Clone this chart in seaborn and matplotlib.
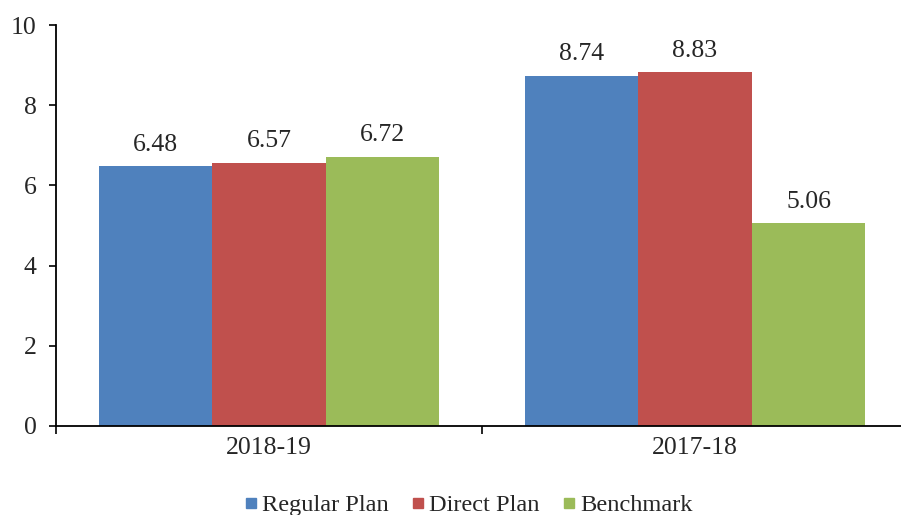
import matplotlib
matplotlib.use("Agg")
import matplotlib.pyplot as plt
import seaborn as sns
import pandas as pd
from matplotlib.lines import Line2D

categories = ["2018-19", "2017-18"]
series_names = ["Regular Plan", "Direct Plan", "Benchmark"]
regular_plan = [6.48, 8.74]
direct_plan = [6.57, 8.83]
benchmark = [6.72, 5.06]
colors = ["#4F81BD", "#C0504D", "#9BBB59"]
y_ticks = [0, 2, 4, 6, 8, 10]

rows = []
for name, vals in zip(series_names, [regular_plan, direct_plan, benchmark]):
    for c, v in zip(categories, vals):
        rows.append({"Year": c, "Series": name, "Value": v})
df = pd.DataFrame(rows)

sns.set_style("white")
plt.rcParams["font.family"] = ["Liberation Serif", "DejaVu Serif"]

FS = 18.5
W, H = 901, 515
fig = plt.figure(figsize=(W / 100, H / 100), dpi=100)
ax = fig.add_axes([56 / W, (H - 426) / H, 852 / W, 401 / H])

sns.barplot(data=df, x="Year", y="Value", hue="Series", order=categories,
            hue_order=series_names, palette=colors, width=0.8, saturation=1,
            edgecolor="none", linewidth=0, legend=False, ax=ax)

for cont in ax.containers:
    for bar in cont:
        h = bar.get_height()
        ax.annotate(f"{h:.2f}", (bar.get_x() + bar.get_width() / 2, h),
                    xytext=(0, 11), textcoords="offset points",
                    ha="center", va="baseline", fontsize=FS)

ax.set_xlim(-0.5, 1.5)
ax.set_ylim(0, 10)
ax.set_yticks(y_ticks)
ax.set_yticklabels([str(t) for t in y_ticks])
ax.set_xticks([-0.5, 0.5, 1.5], minor=False)
ax.set_xticklabels(["", "", ""])
ax.set_xticks([0, 1], minor=True)
ax.set_xticklabels(categories, minor=True)
ax.tick_params(axis="x", which="major", bottom=True, length=6, width=1.2, direction="out", color="black")
ax.tick_params(axis="x", which="minor", bottom=False, length=0, pad=8, labelsize=FS)
ax.tick_params(axis="y", left=True, length=5, width=1.2, direction="out", pad=9, labelsize=FS, color="black")
ax.set_xlabel("")
ax.set_ylabel("")
for s in ["top", "right"]:
    ax.spines[s].set_visible(False)
for s in ["left", "bottom"]:
    ax.spines[s].set_color("black")
    ax.spines[s].set_linewidth(1.3)

handles = [Line2D([], [], marker="s", linestyle="none", markersize=6.5,
                  markerfacecolor=c, markeredgecolor=c) for c in colors]
fig.legend(handles, series_names, loc="center", bbox_to_anchor=(469 / W, (H - 505) / H),
           ncol=3, frameon=False, fontsize=17.6, handlelength=0.5, handletextpad=0.2,
           columnspacing=0.95, borderaxespad=0)

fig.savefig("out.png", dpi=100)
